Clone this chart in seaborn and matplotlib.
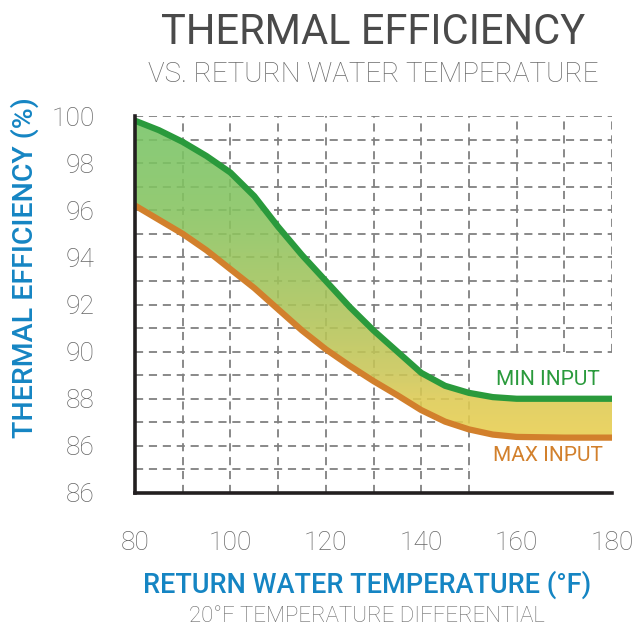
import numpy as np
import pandas as pd
import matplotlib
matplotlib.use("Agg")
import matplotlib.pyplot as plt
from matplotlib.colors import LinearSegmentedColormap
import seaborn as sns

# ---- data ----
temps = [80, 85, 90, 95, 100, 105, 110, 115, 120, 125, 130, 135, 140, 145, 150, 155, 160, 170, 180]
min_input = [99.8, 99.4, 98.9, 98.3, 97.6, 96.6, 95.3, 94.1, 93.0, 91.9, 90.9, 90.0, 89.1, 88.55, 88.25, 88.07, 88.0, 88.0, 88.0]
max_input = [96.2, 95.6, 95.0, 94.3, 93.5, 92.7, 91.8, 90.9, 90.1, 89.4, 88.75, 88.15, 87.52, 87.03, 86.7, 86.48, 86.38, 86.35, 86.35]
y_ticks = [84, 86, 88, 90, 92, 94, 96, 98, 100]
y_tick_labels = ["86", "86", "88", "90", "92", "94", "96", "98", "100"]
x_ticks = [80, 100, 120, 140, 160, 180]
x_tick_labels = ["80", "100", "120", "140", "160", "180"]

df = pd.DataFrame({"temp": temps, "min": min_input, "max": max_input})

sns.set_theme(style="white")
plt.rcParams["font.family"] = ["Roboto", "DejaVu Sans"]

GREEN = "#2a9a3c"
ORANGE = "#d2802c"
BLUE = "#1585c3"
DARK = "#231f20"
GRAY_TXT = "#666666"

fig = plt.figure(figsize=(6.35, 6.31), dpi=100)
ax = fig.add_axes([135/635, 1-493/631, (612-135)/635, (493-116)/631])
ax.set_xlim(80, 180)
ax.set_ylim(84, 100)

# ---- grid (dashed, with empty label area bottom right) ----
gkw = dict(color="#808080", lw=1.3, linestyle=(0, (4.5, 3.2)), zorder=1)
for y in range(85, 101):
    xmax = 180 if y >= 90 else 150
    ax.plot([80, xmax], [y, y], **gkw)
for x in range(90, 181, 10):
    ymin = 84 if x <= 150 else 90
    ax.plot([x, x], [ymin, 100], **gkw)

# ---- gradient fill between curves ----
poly = ax.fill_between(df["temp"], df["max"], df["min"], color="none", lw=0)
cmap = LinearSegmentedColormap.from_list(
    "g", [(0.0, "#e9ce4f"), (0.12, "#dfcb52"), (0.22, "#c9c657"),
          (0.45, "#a6c35a"), (0.72, "#86c460"), (1.0, "#76c365")])
yy = np.linspace(0, 1, 256).reshape(-1, 1)
grad = np.clip((yy * (100 - 84) + 84 - 86.2) / (99.8 - 86.2), 0, 1)
im = ax.imshow(grad, cmap=cmap, vmin=0, vmax=1, origin="lower",
               extent=[80, 180, 84, 100], aspect="auto", zorder=2, alpha=0.88)
im.set_clip_path(poly.get_paths()[0], transform=ax.transData)

# ---- curves ----
sns.lineplot(data=df, x="temp", y="min", color=GREEN, lw=4.5, ax=ax, zorder=4)
sns.lineplot(data=df, x="temp", y="max", color=ORANGE, lw=4.5, ax=ax, zorder=4)
for l in ax.lines[-2:]:
    l.set_solid_capstyle("butt")
    l.set_solid_joinstyle("round")
    l.set_clip_on(False)

# ---- axes styling ----
for s in ["top", "right"]:
    ax.spines[s].set_visible(False)
for s in ["left", "bottom"]:
    ax.spines[s].set_color(DARK)
    ax.spines[s].set_linewidth(2.6)
    ax.spines[s].set_zorder(5)
ax.set_xticks(x_ticks)
ax.set_xticklabels(x_tick_labels)
ax.set_yticks(y_ticks)
ax.set_yticklabels(y_tick_labels)
ax.tick_params(axis="both", direction="out", length=17, width=2.6, color=DARK,
               labelsize=19, labelcolor=GRAY_TXT)
ax.tick_params(axis="y", pad=12)
ax.tick_params(axis="x", pad=10)
for t in ax.get_xticklabels() + ax.get_yticklabels():
    t.set_fontweight("light")
ax.set_xlabel("")
ax.set_ylabel("")

# ---- texts ----
fig.text(373/635, 1-32/631, "THERMAL EFFICIENCY", ha="center", va="center",
         fontsize=30, color="#4a4a4a")
fig.text(373/635, 1-75/631, "VS. RETURN WATER TEMPERATURE", ha="center", va="center",
         fontsize=20, color="#6a6a6a", fontweight="light")
fig.text(25/635, 1-268/631, "THERMAL EFFICIENCY (%)", ha="center", va="center",
         rotation=90, fontsize=20.5, color=BLUE, fontweight="medium")
fig.text(367/635, 1-585/631, "RETURN WATER TEMPERATURE (°F)", ha="center", va="center",
         fontsize=19.5, color=BLUE, fontweight="medium")
fig.text(367/635, 1-617/631, "20°F TEMPERATURE DIFFERENTIAL", ha="center", va="center",
         fontsize=16, color="#6a6a6a", fontweight="light")
ax.text(166.5, 88.8, "MIN INPUT", ha="center", va="center",
        fontsize=15, color=GREEN)
ax.text(166.5, 85.6, "MAX INPUT", ha="center", va="center",
        fontsize=15, color=ORANGE)

fig.savefig("out.png", dpi=100)
